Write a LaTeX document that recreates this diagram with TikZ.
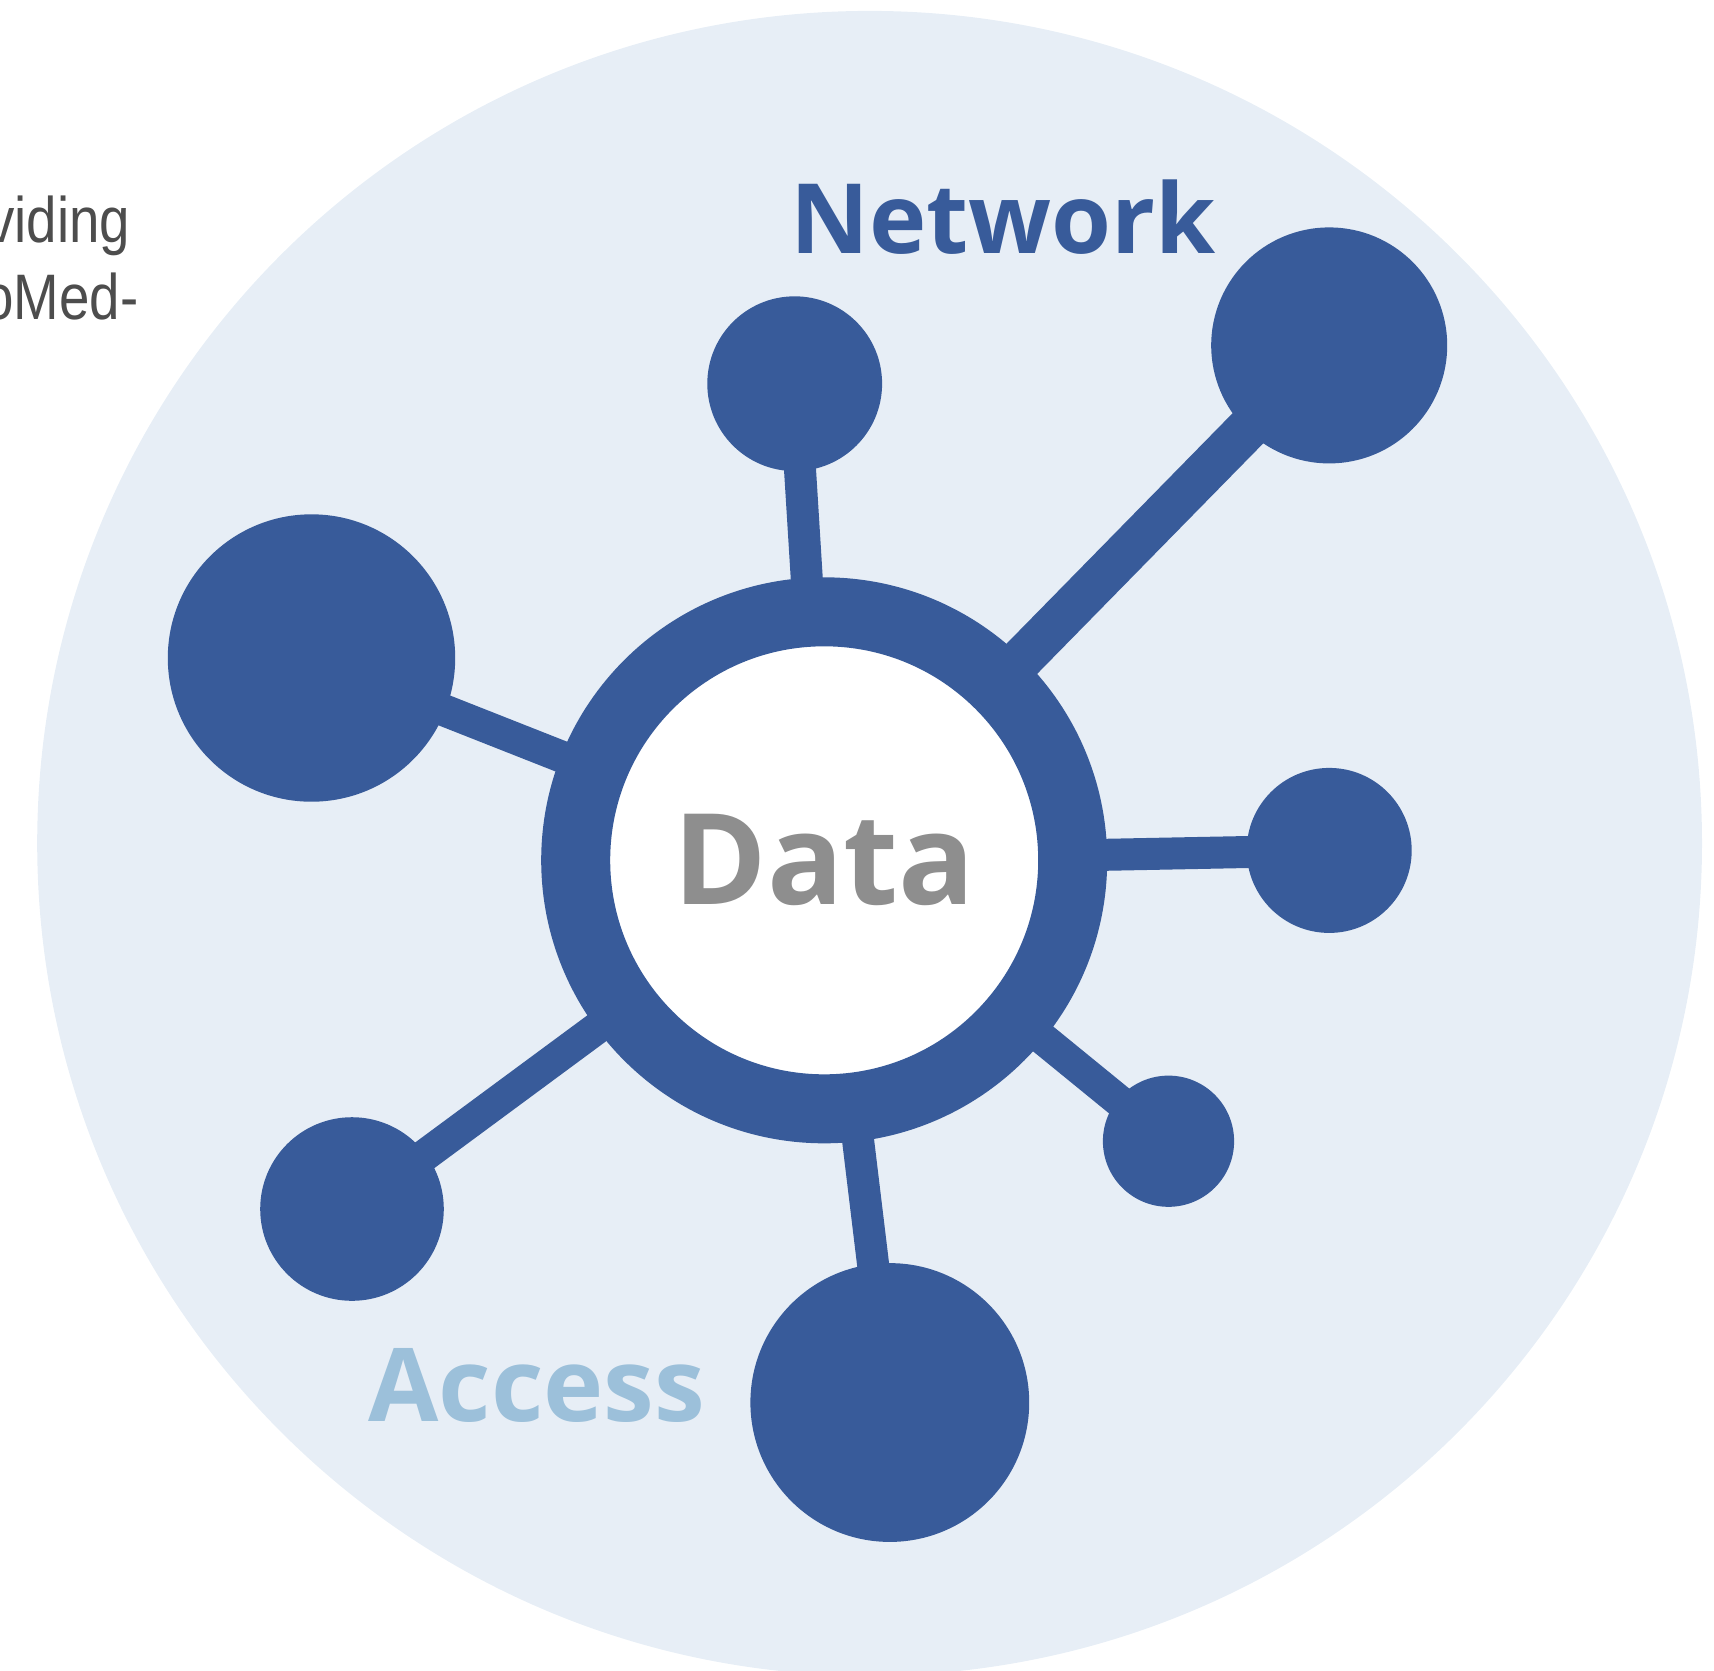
\documentclass[tikz,border=0pt]{standalone}
\usepackage{fontspec}
\usetikzlibrary{backgrounds}
\setmainfont{Open Sans}
\newfontfamily\narrowfont[FakeStretch=0.85]{Liberation Sans}
\definecolor{netblue}{RGB}{56,91,154}
\definecolor{haze}{RGB}{231,238,246}
\definecolor{datagray}{RGB}{142,142,142}
\definecolor{accessblue}{RGB}{156,192,218}
\definecolor{inkgray}{RGB}{77,77,77}
\tikzset{
  sat/.style={circle,fill=netblue,inner sep=0pt,outer sep=0pt},
  link/.style={netblue,line width=0.32cm},
  bigword/.style={font=\bfseries\fontsize{29}{29}\selectfont,anchor=base},
  snippet/.style={text=inkgray,font=\narrowfont\fontsize{18.3}{18.3}\selectfont,anchor=base east,inner sep=0pt},
}
\begin{document}
\begin{tikzpicture}
\clip (0,0) rectangle (17.14,-16.70);
% hub in the middle
\node[circle,draw=netblue,line width=0.69cm,fill=white,minimum size=4.97cm,inner sep=0pt,
  text=datagray,font=\bfseries\fontsize{36}{36}\selectfont] (hub) at (8.242,-8.603) {Data};
% satellites
\foreach \name/\pos/\rad in {top/{7.947,-3.837}/0.874, topright/{13.292,-3.454}/1.18,
  left/{3.115,-6.58}/1.437, right/{13.292,-8.504}/0.825, lowright/{11.685,-11.412}/0.656,
  bottom/{8.898,-14.025}/1.394, lowleft/{3.52,-12.09}/0.918}
\node[sat,minimum size={2*\rad cm}] (\name) at (\pos) {};
\begin{scope}[on background layer]
\fill[haze] (8.696,-8.433) circle[radius=8.324];
\foreach \name in {top,left,right,lowright,bottom,lowleft}
\draw[link] (hub.center) -- (\name.center);
\draw[link,line width=0.43cm] (hub.center) -- (topright.center);
\end{scope}
% words
\node[bigword,text=netblue,font=\bfseries\fontsize{27.6}{27.6}\selectfont] (network) at (10.03,-2.536) {Network};
\node[bigword,text=accessblue] (access) at (5.367,-14.21) {Access};
\node[snippet] (line1) at (1.31,-2.427) {viding};
\node[snippet] (line2) at (1.39,-3.19) {oMed-};
\end{tikzpicture}
\end{document}
